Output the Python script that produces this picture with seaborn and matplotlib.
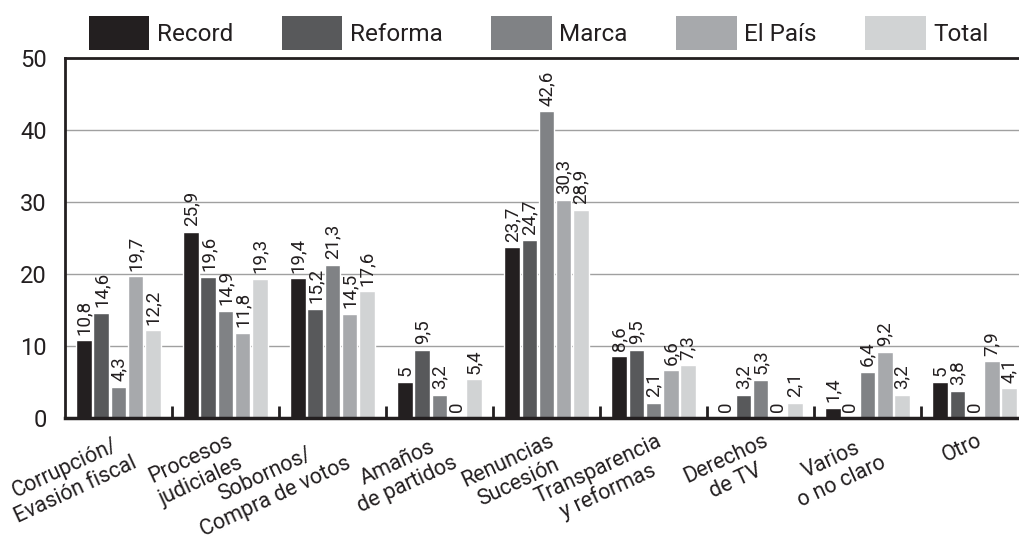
import pandas as pd
import numpy as np
import matplotlib
matplotlib.use("Agg")
import matplotlib.pyplot as plt
from matplotlib.patches import Patch
import seaborn as sns

# =============================
# Data
# =============================
categories = [
    "Corrupción/\nEvasión fiscal", "Procesos\njudiciales", "Sobornos/\nCompra de votos",
    "Amaños\nde partidos", "Renuncias\nSucesión", "Transparencia\ny reformas",
    "Derechos\nde TV", "Varios\no no claro", "Otro",
]
series = ["Record", "Reforma", "Marca", "El País", "Total"]

record = [10.8, 25.9, 19.4, 5, 23.7, 8.6, 0, 1.4, 5]
reforma = [14.6, 19.6, 15.2, 9.5, 24.7, 9.5, 3.2, 0, 3.8]
marca = [4.3, 14.9, 21.3, 3.2, 42.6, 2.1, 5.3, 6.4, 0]
el_pais = [19.7, 11.8, 14.5, 0, 30.3, 6.6, 0, 9.2, 7.9]
total = [12.2, 19.3, 17.6, 5.4, 28.9, 7.3, 2.1, 3.2, 4.1]

y_ticks = [0, 10, 20, 30, 40, 50]

colors = ["#231f20", "#58595b", "#808285", "#a7a9ac", "#d1d3d4"]

# =============================
# Build long table
# =============================
rows = []
for name, vals in zip(series, [record, reforma, marca, el_pais, total]):
    for cat, v in zip(categories, vals):
        rows.append({"Categoria": cat, "Medio": name, "Valor": v})
df = pd.DataFrame(rows)

# =============================
# Plot
# =============================
sns.set_style("white")
plt.rcParams["font.family"] = ["Roboto", "DejaVu Sans"]
text_color = "#231f20"

fig = plt.figure(figsize=(10.2, 5.45), dpi=100)
ax = fig.add_axes([0.0637, 0.233, 0.9363, 0.6606])

sns.barplot(
    data=df, x="Categoria", y="Valor", hue="Medio",
    order=categories, hue_order=series, palette=colors,
    width=0.8, gap=0.08, saturation=1, legend=False, ax=ax, zorder=3,
)

for cont in ax.containers:
    labels = [f"{b.get_height():g}".replace(".", ",") for b in cont]
    ax.bar_label(cont, labels=labels, rotation=90, padding=4,
                 fontsize=13.5, color=text_color)

ax.set_xlim(-0.5, 8.425)
ax.set_ylim(0, 50)
ax.set_yticks(y_ticks)
ax.set_yticklabels([str(t) for t in y_ticks], fontsize=17, color=text_color)
ax.yaxis.grid(True, color="#a0a0a0", linewidth=1, zorder=0)
ax.set_axisbelow(True)

# category labels, anchored at their top-right corner just under each group
ax.set_xticks(np.arange(len(categories)) + 0.02)
ax.set_xticklabels(categories, rotation=25, ha="right", va="top",
                   rotation_mode="anchor", fontsize=15.5,
                   color=text_color, multialignment="center")

# boundary ticks between groups, pointing up
ax.set_xticks(np.arange(0.5, len(categories) - 1, 1.0), minor=True)
ax.tick_params(axis="x", which="major", bottom=False, length=0, pad=9)
ax.tick_params(axis="x", which="minor", bottom=True, direction="in",
               length=9, width=2, color=text_color)
ax.tick_params(axis="y", left=False, length=0, pad=13)

ax.set_xlabel("")
ax.set_ylabel("")

for side in ["left", "top", "bottom"]:
    ax.spines[side].set_visible(True)
    ax.spines[side].set_color(text_color)
    ax.spines[side].set_linewidth(2)
    ax.spines[side].set_zorder(5)
ax.spines["bottom"].set_linewidth(2.5)
ax.spines["right"].set_visible(False)

handles = [Patch(facecolor=c, edgecolor="none") for c in colors]
fig.legend(handles, series, loc="center", bbox_to_anchor=(0.528, 0.94),
           ncol=5, frameon=False, fontsize=17.5, handlelength=2.5, handleheight=1.75,
           handletextpad=0.3, columnspacing=2.0, labelcolor=text_color)

fig.savefig("out.png", dpi=100)
plt.close(fig)
